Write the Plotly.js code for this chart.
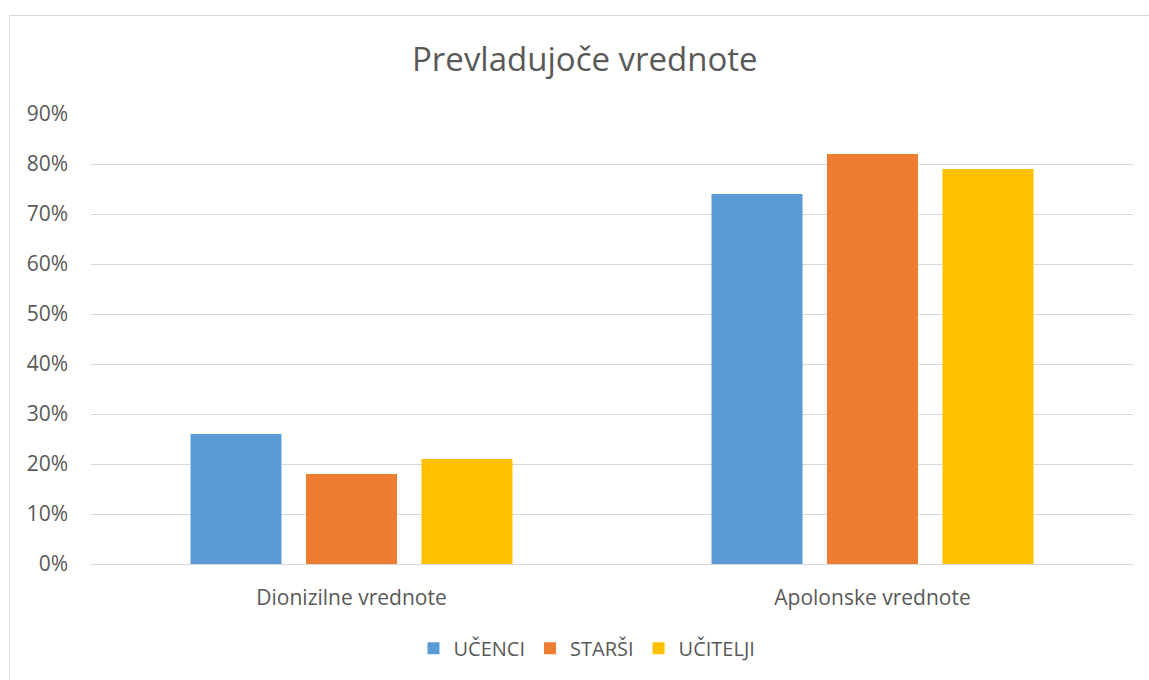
<!DOCTYPE html>
<html>
<head>
<meta charset="utf-8">
<script src="https://cdn.plot.ly/plotly-3.0.1.min.js"></script>
<style>
  html, body { margin: 0; padding: 0; background: #fff; }
  #chart { width: 1149px; height: 680px; }
  #frame { position: absolute; left: 9px; top: 15px; width: 1200px; height: 700px;
           border: 1px solid #d9d9d9; pointer-events: none; box-sizing: border-box; }
</style>
</head>
<body>
<div id="chart"></div>
<div id="frame"></div>
<script>
const categories = ["Dionizilne vrednote", "Apolonske vrednote"];
const seriesNames = ["UČENCI", "STARŠI", "UČITELJI"];
const ucenci = [0.26, 0.74];
const starsi = [0.18, 0.82];
const ucitelji = [0.21, 0.79];
const colors = ["#5B9BD5", "#ED7D31", "#FFC000"];

const font = "Open Sans, Noto Sans, sans-serif";
const values = [ucenci, starsi, ucitelji];
const traces = values.map((v, i) => ({
  type: "bar",
  name: seriesNames[i],
  x: categories,
  y: v,
  marker: { color: colors[i] },
  hoverinfo: "none"
}));

const layout = {
  width: 1149, height: 680,
  margin: { l: 91, r: 16, t: 114, b: 116 },
  paper_bgcolor: "#ffffff",
  plot_bgcolor: "#ffffff",
  font: { family: font, color: "#595959", size: 21 },
  title: { text: "Prevladujoče vrednote", font: { size: 33, color: "#595959", family: font },
           x: 0.509, xanchor: "center", y: 0.912, yanchor: "middle" },
  barmode: "group",
  bargap: 0.335,
  bargroupgap: 0.212,
  xaxis: { showgrid: false, zeroline: false, showline: false, ticks: "",
           tickfont: { size: 21, color: "#595959" }, ticklabelstandoff: 19 },
  yaxis: { range: [0, 0.9], dtick: 0.1, tick0: 0, tickformat: ".0%",
           showgrid: true, gridcolor: "#d9d9d9", gridwidth: 1,
           zeroline: true, zerolinecolor: "#d9d9d9", zerolinewidth: 1,
           showline: false, ticks: "", ticklabelstandoff: 22,
           tickfont: { size: 21, color: "#595959" } },
  showlegend: true,
  legend: { orientation: "h", x: 0.476, xanchor: "center", y: -0.187, yanchor: "middle",
            font: { size: 20, color: "#595959" }, itemclick: false, traceorder: "normal" }
};

Plotly.newPlot("chart", traces, layout, { staticPlot: true });
</script>
</body>
</html>
